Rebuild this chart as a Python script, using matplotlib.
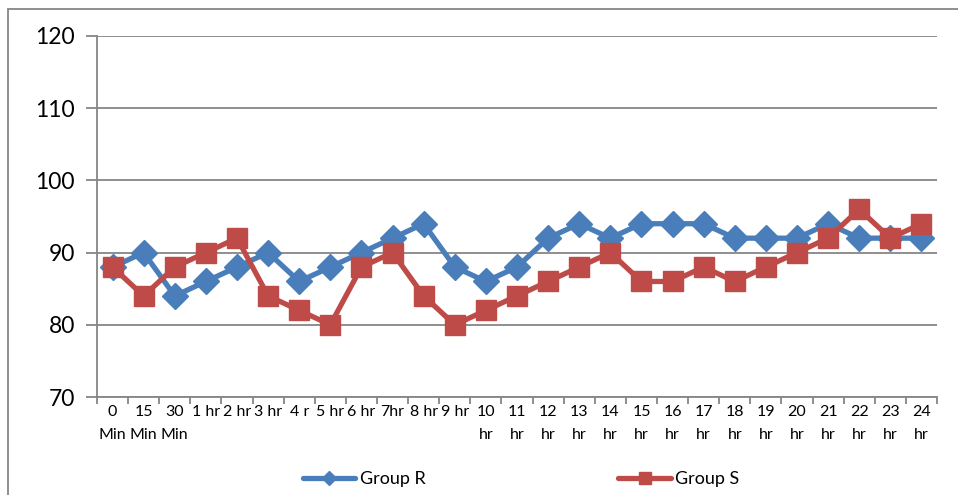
import matplotlib
matplotlib.use("Agg")
import matplotlib.pyplot as plt
from matplotlib.lines import Line2D
from matplotlib.patches import Rectangle

plt.rcParams['font.family'] = ['Lato', 'DejaVu Sans']

# Time points (tick labels) and readings for each group
time_labels = ["0\nMin", "15\nMin", "30\nMin", "1 hr", "2 hr", "3 hr", "4 r",
               "5 hr", "6 hr", "7hr", "8 hr", "9 hr", "10\nhr", "11\nhr", "12\nhr",
               "13\nhr", "14\nhr", "15\nhr", "16\nhr", "17\nhr", "18\nhr", "19\nhr",
               "20\nhr", "21\nhr", "22\nhr", "23\nhr", "24\nhr"]
group_r = [88, 90, 84, 86, 88, 90, 86, 88, 90, 92, 94, 88, 86, 88, 92, 94, 92,
           94, 94, 94, 92, 92, 92, 94, 92, 92, 92]
group_s = [88, 84, 88, 90, 92, 84, 82, 80, 88, 90, 84, 80, 82, 84, 86, 88, 90,
           86, 86, 88, 86, 88, 90, 92, 96, 92, 94]
y_ticks = [70, 80, 90, 100, 110, 120]

blue = "#4A7EBB"
red = "#BE4B48"
grid_gray = "#868686"

W, H = 958, 495
fig = plt.figure(figsize=(W / 100, H / 100), dpi=100)

# Outer chart frame
fig.patches.append(Rectangle((8 / W, -0.1), 1.2, 1 - 9 / H + 0.1,
                             transform=fig.transFigure, fill=False,
                             edgecolor=grid_gray, linewidth=1.3))
# Tail of the caption line sitting above the frame
fig.text(99 / W, 1 + 4.5 / H, "p", family="Liberation Serif", fontsize=16,
         va="baseline", ha="left", color="black")

ax = fig.add_axes([97 / W, 1 - 397 / H, (937 - 97) / W, (397 - 36) / H])

x = list(range(len(time_labels)))
ax.plot(x, group_r, color=blue, lw=3.8, marker="D", ms=13,
        markeredgecolor=blue, zorder=3)
ax.plot(x, group_s, color=red, lw=3.8, marker="s", ms=14,
        markeredgecolor=red, zorder=4)

ax.set_xlim(-0.5, len(time_labels) - 0.5)
ax.set_ylim(70, 120)
ax.set_yticks(y_ticks)
ax.set_yticklabels([str(v) for v in y_ticks], fontsize=16.5)
ax.grid(axis="y", color=grid_gray, lw=1.3)
ax.set_axisbelow(True)

# Category tick marks between points, labels centred under points
ax.set_xticks([i - 0.5 for i in range(len(time_labels) + 1)])
ax.set_xticklabels([])
ax.set_xticks(x, minor=True)
ax.set_xticklabels(time_labels, minor=True, fontsize=11.5, linespacing=1.75,
                   va="top")
ax.tick_params(axis="x", which="minor", length=0, pad=6)
ax.tick_params(axis="x", which="major", length=5, color=grid_gray, width=1.3,
               direction="out")
ax.tick_params(axis="y", length=8, color=grid_gray, width=1.3, pad=8)

for side in ("top", "right"):
    ax.spines[side].set_visible(False)
for side in ("left", "bottom"):
    ax.spines[side].set_color(grid_gray)
    ax.spines[side].set_linewidth(1.3)

handles = [Line2D([], [], color=blue, lw=3.8, marker="D", ms=7,
                  solid_capstyle="round"),
           Line2D([], [], color=red, lw=3.8, marker="s", ms=9,
                  solid_capstyle="round")]
fig.legend(handles, ["Group R", "Group S"], loc="center",
           bbox_to_anchor=(0.544, 1 - 479 / H), ncol=2, frameon=False,
           fontsize=13, handlelength=2.9, handletextpad=0.25,
           columnspacing=10.7)

fig.savefig("out.png", dpi=100)
